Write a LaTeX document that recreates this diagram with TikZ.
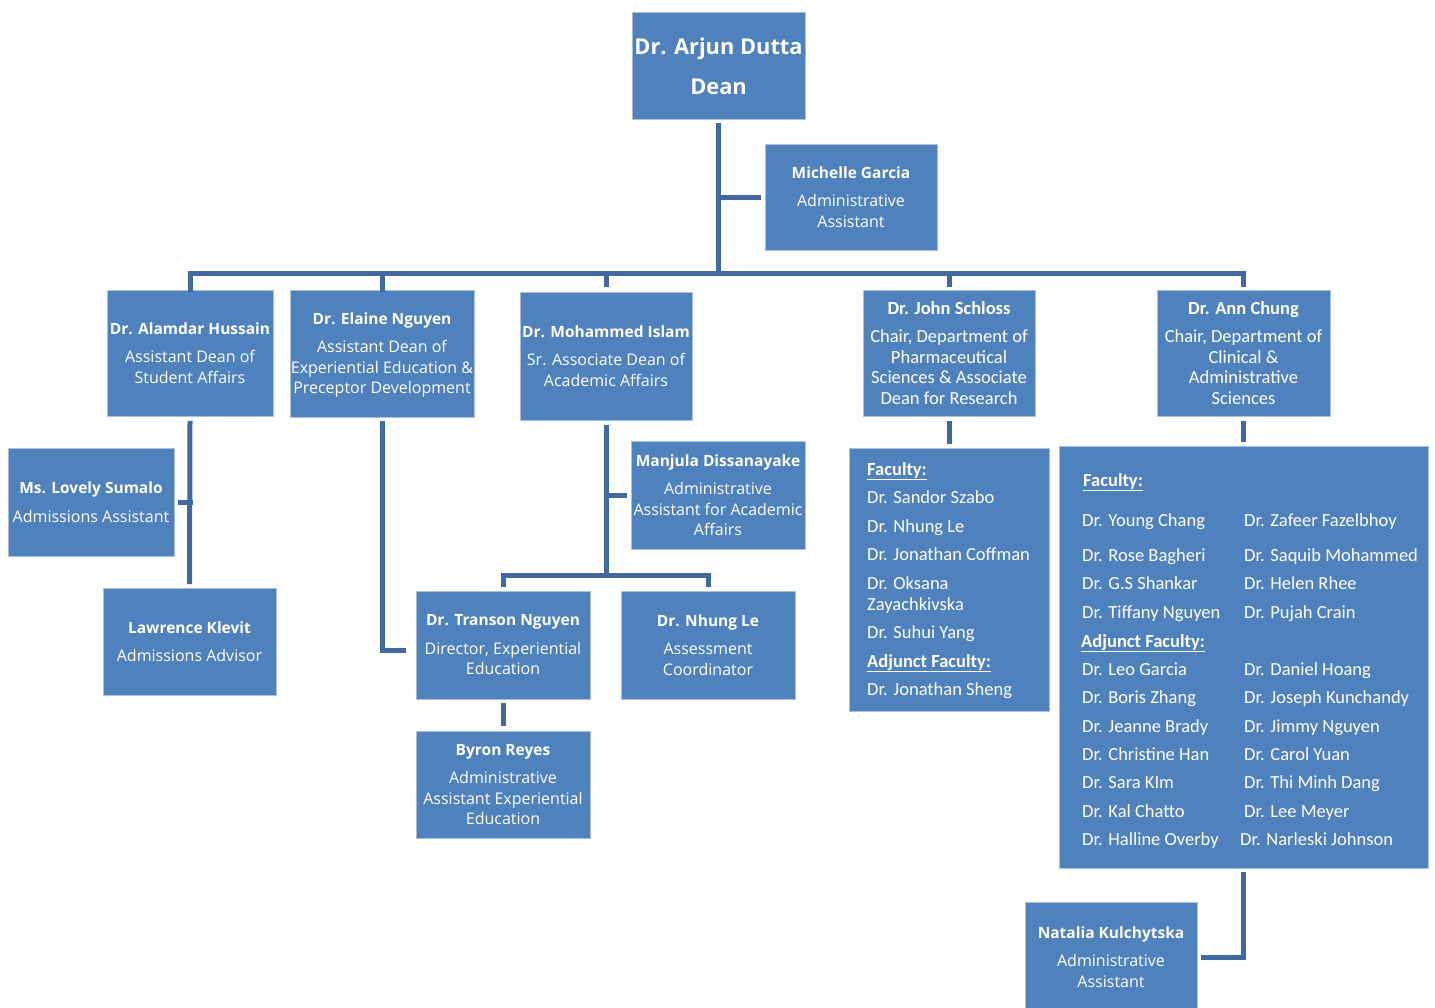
\documentclass[tikz,border=0pt]{standalone}
\usepackage{fontspec}
\setmainfont{Open Sans}
\newfontfamily\calfont{Carlito}
\definecolor{boxblue}{HTML}{4F81BD}
\definecolor{boxedge}{HTML}{A9C0DE}
\definecolor{linkblue}{HTML}{41699F}
\tikzset{
  orgbox/.style={fill=boxblue, draw=boxedge, line width=0.8pt, inner sep=0pt},
  orgtxt/.style={text=white, align=center, inner sep=0pt, font=\fontsize{16}{20.5}\selectfont},
  caltxt/.style={text=white, align=center, inner sep=0pt, font=\calfont\fontsize{18.5}{20.5}\selectfont},
  listtxt/.style={text=white, inner sep=0pt, anchor=base west, font=\calfont\fontsize{18.5}{21}\selectfont},
  conn/.style={draw=linkblue, line width=5pt, line cap=rect},
}
\newcommand\orgrect[5]{\node[orgbox, minimum width={#4-#2}, minimum height={#5-#3}] (#1) at ({(#2+#4)/2},{(#3+#5)/2}) {};}
\newcommand\nm[1]{{\fontsize{15.5}{20.5}\selectfont\bfseries #1}}
\begin{document}
\begin{tikzpicture}[x=1pt,y=-1pt]
\useasboundingbox (0,0) rectangle (1435,1007);
% boxes
\orgrect{dean}{632}{12}{805}{119}
\orgrect{mic}{765}{144}{937}{250}
\orgrect{hus}{107}{290}{273}{416}
\orgrect{ela}{290}{290}{474}{417}
\orgrect{isl}{520}{292}{692}{420}
\orgrect{sch}{863}{290}{1035}{416}
\orgrect{chu}{1157}{290}{1330}{416}
\orgrect{lov}{8}{448}{174}{556}
\orgrect{law}{103}{588}{276}{695}
\orgrect{man}{631}{441}{805}{549}
\orgrect{tra}{416}{591}{590}{699}
\orgrect{nle}{621}{591}{795}{699}
\orgrect{byr}{416}{731}{590}{838}
\orgrect{sfac}{849}{448}{1049}{711}
\orgrect{cfac}{1059}{446}{1428}{868}
\orgrect{nat}{1025}{902}{1197}{1012}
% texts
\node[orgtxt, font=\bfseries\fontsize{21.8}{40}\selectfont] (dean-t) at ([yshift=-0.5pt]dean) {Dr. Arjun Dutta\\Dean};
\node[orgtxt] (mic-t) at (mic) {\nm{Michelle Garcia}\\[8pt]Administrative\\Assistant};
\node[orgtxt] (hus-t) at (hus) {\nm{Dr. Alamdar Hussain}\\[8pt]Assistant Dean of\\Student Affairs};
\node[orgtxt] (ela-t) at ([yshift=-1.5pt]ela) {\nm{Dr. Elaine Nguyen}\\[8pt]Assistant Dean of\\Experiential Education \&\\Preceptor Development};
\node[orgtxt] (isl-t) at (isl) {\nm{Dr. Mohammed Islam}\\[8pt]Sr. Associate Dean of\\Academic Affairs};
\node[caltxt] (sch-t) at (sch) {\textbf{Dr. John Schloss}\\[7.5pt]Chair, Department of\\Pharmaceutical\\Sciences \& Associate\\Dean for Research};
\node[caltxt] (chu-t) at (chu) {\textbf{Dr. Ann Chung}\\[7.5pt]Chair, Department of\\Clinical \&\\Administrative\\Sciences};
\node[orgtxt] (lov-t) at (lov) {\nm{Ms. Lovely Sumalo}\\[8pt]Admissions Assistant};
\node[orgtxt] (law-t) at (law) {\nm{Lawrence Klevit}\\[8pt]Admissions Advisor};
\node[orgtxt] (man-t) at (man) {\nm{Manjula Dissanayake}\\[8pt]Administrative\\Assistant for Academic\\Affairs};
\node[orgtxt] (tra-t) at (tra) {\nm{Dr. Transon Nguyen}\\[8pt]Director, Experiential\\Education};
\node[orgtxt] (nle-t) at (nle) {\nm{Dr. Nhung Le}\\[8pt]Assessment\\Coordinator};
\node[orgtxt] (byr-t) at (byr) {\nm{Byron Reyes}\\[8pt]Administrative\\Assistant Experiential\\Education};
\node[orgtxt] (nat-t) at (nat) {\nm{Natalia Kulchytska}\\[8pt]Administrative\\Assistant};
% Schloss faculty list
\foreach \t/\y [count=\i] in {{\underline{\textbf{Faculty:}}}/469, Dr. Sandor Szabo/497, Dr. Nhung Le/526, Dr. Jonathan Coffman/554, Dr. Oksana/583, Zayachkivska/604, Dr. Suhui Yang/632, {\underline{\textbf{Adjunct Faculty:}}}/661, Dr. Jonathan Sheng/689}{
  \node[listtxt] (sf\i) at (867,\y+6) {\t};
}
% Chung faculty list
\node[listtxt] (cfh1) at (1083,486) {\underline{\textbf{Faculty:}}};
\node[listtxt] (cfh2) at (1081,647) {\underline{\textbf{Adjunct Faculty:}}};
\foreach \a/\b/\y/\xb [count=\i] in {Young Chang/Zafeer Fazelbhoy/520/1244, Rose Bagheri/Saquib Mohammed/555/1244, G.S Shankar/Helen Rhee/583/1244, Tiffany Nguyen/Pujah Crain/612/1244, Leo Garcia/Daniel Hoang/669/1244, Boris Zhang/Joseph Kunchandy/697/1244, Jeanne Brady/Jimmy Nguyen/726/1244, Christine Han/Carol Yuan/754/1244, Sara KIm/Thi Minh Dang/782/1244, Kal Chatto/Lee Meyer/811/1244, Halline Overby/Narleski Johnson/839/1240}{
  \node[listtxt] (ca\i) at (1082,\y+6) {Dr. \a};
  \node[listtxt] (cb\i) at (\xb,\y+6) {Dr. \b};
}
% connectors
\coordinate (bus) at (0,273);
\coordinate (ibus) at (0,575);
\draw[conn] ([yshift=-6pt]dean.south) -- (dean.south |- bus);
\draw[conn] (dean.south |- mic.west) -- ([xshift=-6pt]mic.west);
\draw[conn] (hus.north) |- (chu.north |- bus) -- ([yshift=5pt]chu.north);
\draw[conn] (ela.north |- bus) -- (ela.north);
\draw[conn] (isl.north |- bus) -- ([yshift=7pt]isl.north);
\draw[conn] (sch.north |- bus) -- ([yshift=5pt]sch.north);
\draw[conn] ([yshift=-7pt]hus.south) -- ([yshift=6pt]law.north);
\draw[conn] (hus.south |- lov.east) -- ([xshift=6pt]lov.east);
\draw[conn] ([yshift=-6pt]ela.south) |- ([xshift=-12pt,yshift=-5pt]tra.west);
\draw[conn] ([yshift=-7pt]isl.south) -- (isl.south |- ibus);
\draw[conn] (isl.south |- man.west) -- ([xshift=-6pt]man.west);
\draw[conn] ([yshift=6pt]tra.north) |- (nle.north |- ibus) -- ([yshift=6pt]nle.north);
\draw[conn] ([yshift=-6pt]tra.south) -- ([yshift=7pt]byr.north);
\draw[conn] ([yshift=-7pt]sch.south) -- ([yshift=6pt]sfac.north);
\draw[conn] ([yshift=-7pt]chu.south) -- ([yshift=6pt]cfac.north);
\draw[conn] ([yshift=-6pt]cfac.south) |- ([xshift=6pt]nat.east);
\end{tikzpicture}
\end{document}
